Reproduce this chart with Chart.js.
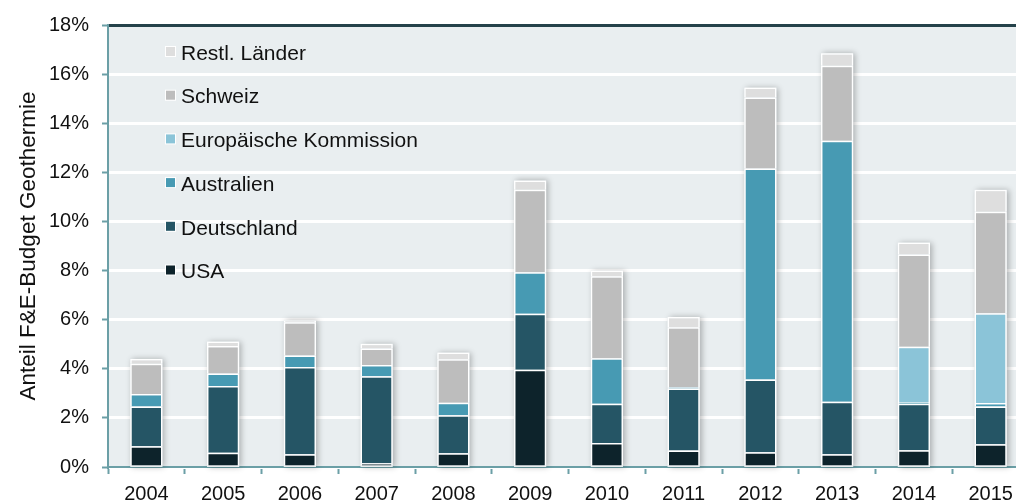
<!DOCTYPE html>
<html lang="de">
<head>
    <meta charset="UTF-8">
    <title>Anteil F&amp;E-Budget Geothermie</title>
    <script src="https://cdn.jsdelivr.net/npm/chart.js"></script>
    <style>
        body {
            margin: 0;
            background: #fff;
            overflow: hidden;
        }
        .chart-box {
            position: relative;
            width: 1029px;
            height: 504px;
        }
    </style>
</head>
<body>
    <div class="chart-box">
        <canvas id="budgetChart"></canvas>
    </div>
    <script>
        // Jahre und Anteile (in %) je Land, von unten nach oben gestapelt
        const years = ['2004', '2005', '2006', '2007', '2008', '2009', '2010', '2011', '2012', '2013', '2014', '2015'];
        const usa         = [0.85, 0.58, 0.52, 0.15, 0.56, 3.96, 0.98, 0.67, 0.60, 0.52, 0.68, 0.93];
        const deutschland = [1.61, 2.72, 3.55, 3.55, 1.55, 2.28, 1.60, 2.53, 2.96, 2.14, 1.90, 1.53];
        const australien  = [0.51, 0.51, 0.47, 0.45, 0.51, 1.69, 1.85, 0.05, 8.60, 10.63, 0.07, 0.15];
        const euKommission = [0, 0, 0, 0, 0, 0, 0, 0, 0, 0, 2.25, 3.65];
        const schweiz     = [1.23, 1.12, 1.35, 0.68, 1.77, 3.36, 3.34, 2.44, 2.89, 3.05, 3.75, 4.13];
        const restlLaender = [0.20, 0.18, 0.08, 0.19, 0.27, 0.38, 0.23, 0.42, 0.40, 0.51, 0.49, 0.90];
        const yTicks = [0, 2, 4, 6, 8, 10, 12, 14, 16, 18];

        const FONT = "'Liberation Sans', Arial, sans-serif";
        const TEAL = '#6b9fa6';

        const series = [
            { label: 'USA', data: usa, color: '#0d232b' },
            { label: 'Deutschland', data: deutschland, color: '#255565' },
            { label: 'Australien', data: australien, color: '#479ab3' },
            { label: 'Europäische Kommission', data: euKommission, color: '#8bc4d8' },
            { label: 'Schweiz', data: schweiz, color: '#bdbdbd' },
            { label: 'Restl. Länder', data: restlLaender, color: '#dedede' }
        ];

        // Hintergrund der Zeichenfläche + Schatten hinter jedem Stapel
        const backdrop = {
            id: 'backdrop',
            beforeDraw(chart) {
                const { ctx, chartArea: a } = chart;
                ctx.save();
                ctx.fillStyle = '#e9eef0';
                ctx.fillRect(a.left, a.top, a.right - a.left, a.bottom - a.top);
                ctx.restore();
            },
            beforeDatasetsDraw(chart) {
                const { ctx, scales } = chart;
                const meta = chart.getDatasetMeta(0);
                ctx.save();
                ctx.shadowColor = 'rgba(0, 0, 0, 0.28)';
                ctx.shadowBlur = 6;
                ctx.shadowOffsetX = 2;
                ctx.fillStyle = '#e9eef0';
                meta.data.forEach((bar, i) => {
                    const total = series.reduce((s, d) => s + d.data[i], 0);
                    const top = scales.y.getPixelForValue(total);
                    const base = scales.y.getPixelForValue(0);
                    ctx.fillRect(bar.x - bar.width / 2, top, bar.width, base - top);
                });
                ctx.restore();
            }
        };

        // Legende innerhalb der Zeichenfläche, umgekehrte Reihenfolge
        const innerLegend = {
            id: 'innerLegend',
            afterDatasetsDraw(chart) {
                const { ctx } = chart;
                ctx.save();
                ctx.font = '21px ' + FONT;
                ctx.textBaseline = 'middle';
                const items = chart.data.datasets.slice().reverse();
                items.forEach((ds, k) => {
                    const y = 53 + k * 43.7;
                    ctx.fillStyle = '#ffffff';
                    ctx.fillRect(165, y - 7, 11, 11);
                    ctx.fillStyle = ds.backgroundColor;
                    ctx.fillRect(166, y - 6, 9, 9);
                    ctx.fillStyle = '#111';
                    ctx.fillText(ds.label, 181, y + 1);
                });
                ctx.restore();
            }
        };

        const ctx = document.getElementById('budgetChart').getContext('2d');
        new Chart(ctx, {
            type: 'bar',
            data: {
                labels: years,
                datasets: series.map(s => ({
                    label: s.label,
                    data: s.data,
                    backgroundColor: s.color,
                    borderColor: '#ffffff',
                    borderWidth: 1.5,
                    borderSkipped: 'start',
                    barPercentage: 0.42,
                    categoryPercentage: 1
                }))
            },
            options: {
                responsive: true,
                maintainAspectRatio: false,
                animation: false,
                layout: { padding: { top: 20, right: 0, left: 0, bottom: 0 } },
                plugins: {
                    legend: { display: false },
                    tooltip: { enabled: false }
                },
                scales: {
                    x: {
                        stacked: true,
                        offset: true,
                        grid: {
                            offset: true,
                            drawOnChartArea: false,
                            tickLength: 7,
                            tickColor: TEAL,
                            tickWidth: 2
                        },
                        border: { color: TEAL, width: 2 },
                        ticks: {
                            font: { family: FONT, size: 20 },
                            color: '#111',
                            padding: 8,
                            maxRotation: 0
                        },
                        afterFit(scale) { scale.height = 37; }
                    },
                    y: {
                        stacked: true,
                        min: 0,
                        max: 18,
                        afterBuildTicks(scale) {
                            scale.ticks = yTicks.map(v => ({ value: v }));
                        },
                        grid: {
                            color: c => (c.tick && c.tick.value === 18 ? '#24424a' : '#ffffff'),
                            lineWidth: 3,
                            tickLength: 6,
                            tickColor: TEAL,
                            tickWidth: 2
                        },
                        border: { color: TEAL, width: 2 },
                        ticks: {
                            font: { family: FONT, size: 20 },
                            color: '#111',
                            padding: 13,
                            callback: v => v + '%'
                        },
                        title: {
                            display: true,
                            text: 'Anteil F&E-Budget Geothermie',
                            font: { family: FONT, size: 22.5 },
                            color: '#111',
                            padding: { top: 15, bottom: 0 }
                        },
                        afterFit(scale) { scale.width = 108; }
                    }
                }
            },
            plugins: [backdrop, innerLegend]
        });
    </script>
</body>
</html>
